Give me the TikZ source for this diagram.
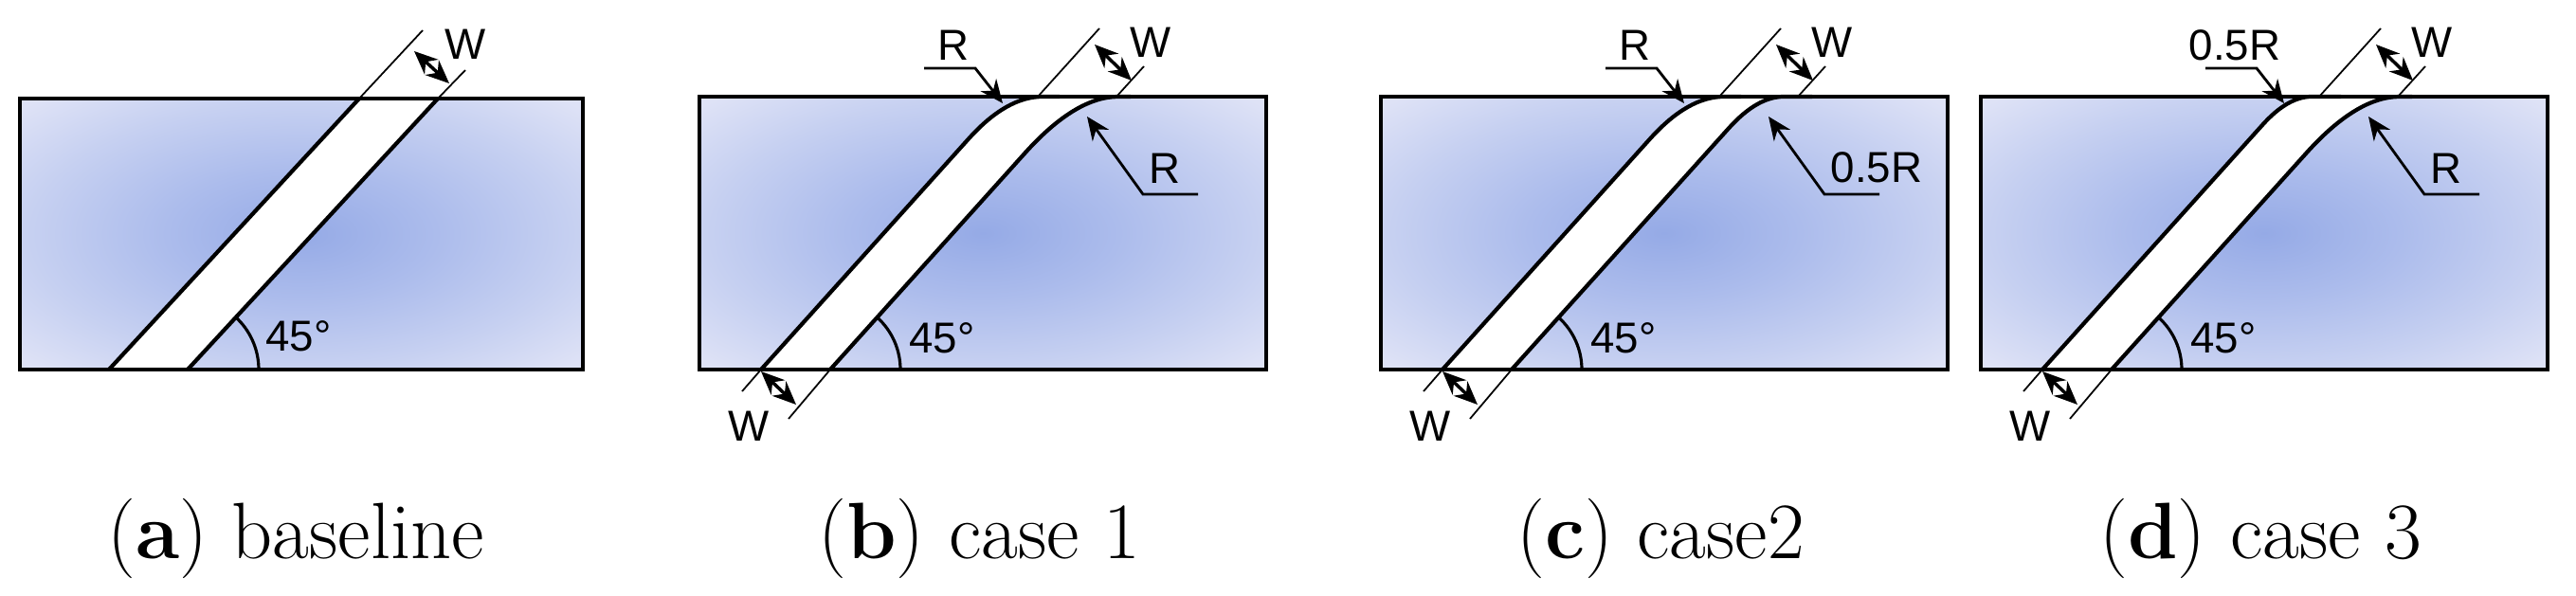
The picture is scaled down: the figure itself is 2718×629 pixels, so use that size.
\documentclass[tikz,border=0pt]{standalone}
\usepackage{fontspec}
\newfontfamily\lbl{Liberation Sans}
\usetikzlibrary{arrows.meta,calc}
\definecolor{bluec}{HTML}{95AAE6}
\definecolor{bluem}{HTML}{ACBCEC}
\definecolor{bluen}{HTML}{C6D0F1}
\definecolor{bluee}{HTML}{DEE2F6}
\pgfdeclareradialshading{myrad}{\pgfpoint{0bp}{0bp}}{color(0bp)=(bluec); color(12bp)=(bluem); color(24bp)=(bluen); color(34bp)=(bluee); color(75bp)=(bluee)}
\tikzset{
  x=0.1mm,y=-0.1mm,
  bg/.style={shading=myrad},
  border/.style={line width=1.2pt},
  ext/.style={line width=0.5pt},
  dim/.style={line width=1pt,{Stealth[length=7pt,width=6pt]}-{Stealth[length=7pt,width=6pt]}},
  lead/.style={line width=0.8pt,-{Stealth[length=7pt,width=6pt]}},
  lab/.style={font=\lbl\fontsize{13}{14}\selectfont,inner sep=0pt},
  captxt/.style={font=\fontsize{24}{28}\selectfont,inner sep=0pt}
}
\newcommand\lineend[3]{($(#1,102)+#2*(-0.669,0.744)$) .. controls ($(#1,102)+#2*(-0.223,0.248)$) and ($(#1,102)+(#3/3,0)$) .. ($(#1,102)+(#3,0)$)}
\newcommand\lineendrev[3]{($(#1,102)+(#3,0)$) .. controls ($(#1,102)+(#3/3,0)$) and ($(#1,102)+#2*(-0.223,0.248)$) .. ($(#1,102)+#2*(-0.669,0.744)$)}
% #1 shift, #2/#3 left cuts, #4/#5 right cuts, #6 left label, #7 right label, #8 prefix, #9 caption
\newcommand\casepanel[9]{%
\begin{scope}[shift={(#1,0)}]
\shade[bg] (0,102) rectangle (598,390);
\fill[white] (65,390) -- \lineend{324}{#2}{#3} -- \lineendrev{397}{#4}{#5} -- (138,390) -- cycle;
\draw[border] (0,102) rectangle (598,390);
\draw[border] (65,390) -- \lineend{324}{#2}{#3} -- (380,102);
\draw[border] (138,390) -- \lineend{397}{#4}{#5} -- (455,102);
\coordinate (#8-t1) at (357,102); \coordinate (#8-t2) at (422,30);
\coordinate (#8-t3) at (440,102); \coordinate (#8-t4) at (469,70);
\draw[ext] (#8-t1) -- (#8-t2);
\draw[ext] (#8-t3) -- (#8-t4);
\coordinate (#8-ta) at (417,47); \coordinate (#8-tb) at (456,85);
\draw[dim] (#8-ta) -- (#8-tb);
\node[lab] (#8-tw) at (476,45) {W};
\coordinate (#8-b1) at (65,390); \coordinate (#8-b2) at (45,413);
\coordinate (#8-b3) at (138,390); \coordinate (#8-b4) at (94,442);
\draw[ext] (#8-b1) -- (#8-b2);
\draw[ext] (#8-b3) -- (#8-b4);
\coordinate (#8-ba) at (65,392); \coordinate (#8-bb) at (102,427);
\draw[dim] (#8-ba) -- (#8-bb);
\node[lab] (#8-bw) at (52,450) {W};
\node[lab] (#8-rl) at (268,48) {#6};
\coordinate (#8-l1) at (237,72); \coordinate (#8-l2) at (291,72); \coordinate (#8-l3) at (320,109);
\draw[lead] (#8-l1) -- (#8-l2) -- (#8-l3);
\node[lab,anchor=south west] (#8-rr) at (474,194) {#7};
\coordinate (#8-r1) at (526,205); \coordinate (#8-r2) at (468,205); \coordinate (#8-r3) at (409,123);
\draw[lead] (#8-r1) -- (#8-r2) -- (#8-r3);
\draw[ext,line width=0.9pt] (212,390) arc[start angle=0,end angle=-48,radius=74];
\node[lab] (#8-ang) at (256,357) {45°};
\node[captxt] (#8-cap) at (295,568) {#9};
\end{scope}}
\begin{document}
\begin{tikzpicture}
\useasboundingbox (0,0) rectangle (2718,629);
\shade[bg] (21,104) rectangle (615,390);
\fill[white] (115,390) -- (379,104) -- (462,104) -- (198,390) -- cycle;
\draw[border] (21,104) rectangle (615,390);
\draw[border] (115,390) -- (379,104);
\draw[border] (198,390) -- (462,104);
\coordinate (a-t1) at (379,104); \coordinate (a-t2) at (446,32);
\coordinate (a-t3) at (462,104); \coordinate (a-t4) at (491,74);
\draw[ext] (a-t1) -- (a-t2);
\draw[ext] (a-t3) -- (a-t4);
\coordinate (a-ta) at (437,54); \coordinate (a-tb) at (474,88);
\draw[dim] (a-ta) -- (a-tb);
\node[lab] (a-tw) at (491,47) {W};
\draw[ext,line width=0.9pt] (273,390) arc[start angle=0,end angle=-48,radius=75];
\node[lab] (a-ang) at (315,355) {45°};
\node[captxt] (a-cap) at (312,568) {(\textbf{a}) baseline};
\casepanel{738}{60}{38}{80}{45}{R}{R}{b}{(\textbf{b}) case 1}
\casepanel{1457}{60}{38}{45}{28}{R}{0.5R}{c}{(\textbf{c}) case2}
\casepanel{2090}{40}{25}{80}{45}{0.5R}{R}{d}{(\textbf{d}) case 3}
\end{tikzpicture}
\end{document}
